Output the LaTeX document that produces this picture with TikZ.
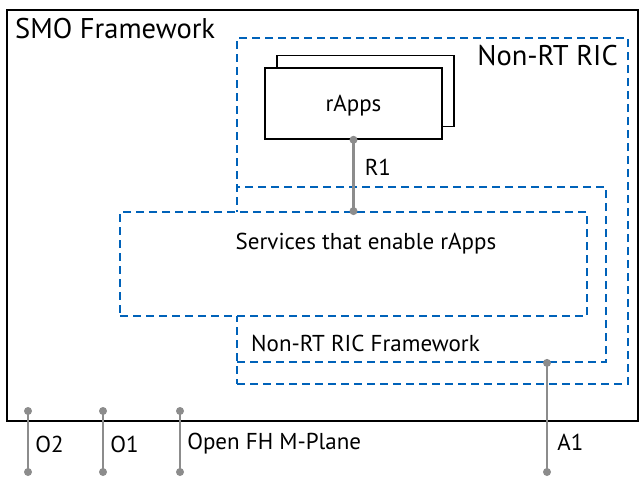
\documentclass[tikz,border=0pt]{standalone}
\usepackage{fontspec}
\setmainfont{PT Sans}
\usetikzlibrary{positioning}
\definecolor{ricblue}{RGB}{0,98,185}
\definecolor{ifgray}{RGB}{140,140,140}
\tikzset{
  box/.style={draw=black, line width=1.8pt, inner sep=0},
  ricbox/.style={draw=ricblue, line width=1.8pt, dash pattern=on 8pt off 5pt, inner sep=0},
  appbox/.style={draw=black, line width=1.6pt, fill=white, inner sep=0, minimum width=177pt, minimum height=71pt},
  ifdot/.style={circle, fill=ifgray, inner sep=0, minimum size=8pt},
  ifline/.style={draw=ifgray, line width=2.6pt},
  lbl/.style={font=\fontsize{23}{27}\selectfont, inner sep=0},
  biglbl/.style={font=\fontsize{28.5}{33}\selectfont, inner sep=0}
}

\begin{document}
\begin{tikzpicture}[x=1pt,y=-1pt]
    \useasboundingbox (0,0) rectangle (644,485);

    % frames
    \node[box, minimum width=631pt, minimum height=411pt] (smo) at (322.5,215.5) {};
    \node[ricbox, minimum width=391pt, minimum height=346pt] (ric) at (432.5,211) {};
    \node[ricbox, minimum width=369pt, minimum height=175pt] (fw) at (421.5,274.5) {};
    \node[ricbox, fill=white, minimum width=467pt, minimum height=104pt] (svc) at (353.5,264) {};

    % rApps stack
    \node[appbox] (app2) at (365.5,91) {};
    \node[appbox] (app) at (353.5,103.5) {};

    % texts
    \node[biglbl, anchor=west] (smot) at (15,29) {SMO Framework};
    \node[biglbl, anchor=east] (rict) at (618,56) {Non-RT RIC};
    \node[lbl, yshift=-2pt] (appt) at (app) {rApps};
    \node[lbl] (svct) at (366,244) {Services that enable rApps};
    \node[lbl, anchor=west] (fwt) at (251,343) {Non-RT RIC Framework};

    % interfaces
    \coordinate (a1b) at (547,472);
    \coordinate (a1t) at (fw.south -| a1b);
    \foreach \name/\x in {o2/28, o1/103, fh/180}
    {
      \coordinate (\name t) at (\x,411);
      \coordinate (\name b) at (\x,472);
    }
    \draw[ifline] (app.south) -- (svc.north) node[pos=0.38, right=10pt, lbl] (r1) {R1};
    \draw[ifline] (a1t) -- (a1b) node[pos=0.73, right=9pt, lbl] (a1) {A1};
    \draw[ifline] (o2t) -- (o2b) node[pos=0.54, right=6pt, lbl] (o2) {O2};
    \draw[ifline] (o1t) -- (o1b) node[pos=0.54, right=6pt, lbl] (o1) {O1};
    \draw[ifline] (fht) -- (fhb) node[pos=0.54, right=6pt, lbl] (fh) {Open FH M-Plane};
    \foreach \p in {app.south, svc.north, a1t, a1b, o2t, o2b, o1t, o1b, fht, fhb}
    {
      \node[ifdot] at (\p) {};
    }
\end{tikzpicture}
\end{document}
